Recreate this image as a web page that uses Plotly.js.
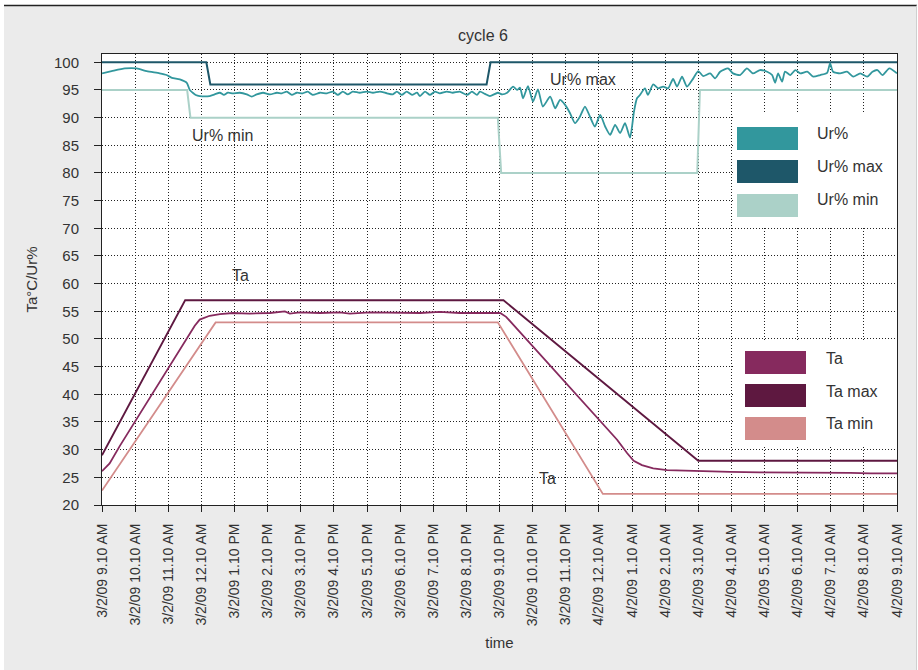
<!DOCTYPE html>
<html><head><meta charset="utf-8">
<script src="https://cdn.plot.ly/plotly-3.0.1.min.js"></script>
<style>html,body{margin:0;padding:0;background:#fff}#chart{width:918px;height:670px}</style>
</head><body><div id="chart"></div>
<script>
// ---- tick positions (hours since 3/2/09 9.10 AM) and labels ----
const tickHours = [0,1,2,3,4,5,6,7,8,9,10,11,12,13,14,15,16,17,18,19,20,21,22,23,24];
const tickLabels = [
  "3/2/09 9.10 AM","3/2/09 10.10 AM","3/2/09 11.10 AM","3/2/09 12.10 AM",
  "3/2/09 1.10 PM","3/2/09 2.10 PM","3/2/09 3.10 PM","3/2/09 4.10 PM",
  "3/2/09 5.10 PM","3/2/09 6.10 PM","3/2/09 7.10 PM","3/2/09 8.10 PM",
  "3/2/09 9.10 PM","3/2/09 10.10 PM","3/2/09 11.10 PM","4/2/09 12.10 AM",
  "4/2/09 1.10 AM","4/2/09 2.10 AM","4/2/09 3.10 AM","4/2/09 4.10 AM",
  "4/2/09 5.10 AM","4/2/09 6.10 AM","4/2/09 7.10 AM","4/2/09 8.10 AM",
  "4/2/09 9.10 AM"];

// ---- Ur% (measured humidity) ----
const urTime = [0,0.29,0.69,1.05,1.35,1.74,1.95,2.11,2.35,2.56,2.65,2.74,2.83,2.95,3.25,3.40,3.56,3.68,3.80,3.95,
  4.16,4.37,4.52,4.67,4.86,5.07,5.28,5.43,5.58,5.73,5.88,6.06,6.21,6.36,6.58,6.79,6.97,7.12,7.27,7.42,
  7.57,7.78,7.99,8.18,8.39,8.60,8.78,8.90,9.05,9.20,9.36,9.51,9.60,9.75,9.90,10.05,10.20,10.41,10.59,10.80,
  11.02,11.17,11.32,11.41,11.56,11.71,11.95,12.08,12.23,12.41,12.53,12.62,12.71,12.86,13.01,13.16,13.31,13.53,13.68,13.83,
  13.98,14.13,14.28,14.43,14.58,14.73,14.88,15.04,15.19,15.34,15.49,15.64,15.79,15.94,16.06,16.15,16.24,16.39,16.48,16.64,
  16.79,16.94,17.09,17.24,17.36,17.51,17.66,17.85,18.00,18.15,18.36,18.51,18.66,18.90,19.05,19.26,19.47,19.65,19.86,20.08,
  20.23,20.32,20.41,20.53,20.62,20.78,20.93,21.08,21.29,21.47,21.68,21.89,21.98,22.07,22.28,22.49,22.68,22.89,23.10,23.26,
  23.41,23.56,23.77,24.00];
const urValues = [98.0,98.4,98.9,98.9,98.4,98.0,97.7,97.2,96.9,96.3,95.0,94.5,94.1,93.9,93.9,94.2,94.5,94.1,94.5,94.4,
  94.5,94.2,93.8,94.2,94.5,94.2,94.5,94.4,94.7,94.1,94.5,94.4,94.7,94.1,94.5,94.4,94.7,94.1,94.7,94.2,
  94.7,94.5,94.7,94.5,94.7,94.4,94.2,94.7,94.1,94.7,94.1,94.5,93.9,94.7,94.1,94.7,94.4,94.7,94.5,94.7,
  94.1,94.7,94.1,94.7,94.3,93.9,94.5,94.2,94.5,95.6,95.0,95.4,93.5,95.7,92.9,95.1,92.0,93.8,91.7,93.2,
  92.3,90.8,89.0,90.2,92.0,90.2,88.4,90.5,88.4,86.9,88.7,87.2,89.0,86.4,91.1,93.5,94.1,95.3,94.1,96.0,
  95.3,95.6,95.3,97.0,95.6,97.4,95.6,97.1,98.4,97.5,98.0,97.1,98.3,98.9,98.0,97.7,98.9,98.0,98.6,98.3,
  97.7,96.3,98.0,96.5,98.3,97.7,98.6,98.0,98.3,97.4,97.7,98.1,99.8,98.3,98.0,98.3,97.4,98.0,97.4,98.3,
  98.6,97.7,98.9,98.0];

// ---- Ur% max / Ur% min (set limits) ----
const urMaxTime = [0,3.15,3.27,11.61,11.73,24];
const urMaxValues = [100,100,96,96,100,100];
const urMinTime = [0,2.57,2.67,11.95,12.05,17.97,18.05,24];
const urMinValues = [95,95,90,90,80,80,95,95];

// ---- Ta (measured temperature) ----
const taTime = [0,0.23,0.53,1.44,2.20,2.59,2.80,2.95,3.25,3.56,3.95,4.46,5.07,5.52,5.67,5.97,6.58,7.18,7.48,8.09,
  8.99,9.60,10.20,10.80,11.41,12.02,12.20,12.92,13.89,14.98,15.55,15.85,16.05,16.30,16.64,17.06,18.00,18.96,19.86,20.78,21.68,
  22.59,23.19,24.00];
const taValues = [26.1,27.5,30.6,39.4,46.8,50.6,52.4,53.5,54.2,54.5,54.7,54.6,54.7,55.0,54.6,54.8,54.7,54.8,54.6,54.8,
  54.8,54.7,54.9,54.7,54.7,54.7,54.0,49.2,42.8,35.6,31.8,29.4,28.0,27.2,26.6,26.3,26.1,26.0,25.9,25.9,25.8,
  25.8,25.7,25.7];

// ---- Ta max / Ta min (set limits) ----
const taMaxTime = [0,2.51,12.12,18.0,24];
const taMaxValues = [29,57,57,28,28];
const taMinTime = [0,3.43,11.95,15.12,24];
const taMinValues = [22.6,53,53,22,22];

// ---- colours ----
const cUr = '#32979d', cUrMax = '#1e5769', cUrMin = '#abd1c8';
const cTa = '#862a5e', cTaMax = '#5e1840', cTaMin = '#d38c8b';

const FONT = 'Liberation Sans, Arial, sans-serif';
const TXT = '#333333';

const traces = [
  {x: urMinTime, y: urMinValues, name: 'Ur% min', mode: 'lines', line: {color: cUrMin, width: 2}},
  {x: urMaxTime, y: urMaxValues, name: 'Ur% max', mode: 'lines', line: {color: cUrMax, width: 2}},
  {x: urTime, y: urValues, name: 'Ur%', mode: 'lines', line: {color: cUr, width: 1.8, shape: 'spline', smoothing: 0.6}},
  {x: taMinTime, y: taMinValues, name: 'Ta min', mode: 'lines', line: {color: cTaMin, width: 1.8}},
  {x: taMaxTime, y: taMaxValues, name: 'Ta max', mode: 'lines', line: {color: cTaMax, width: 1.8}},
  {x: taTime, y: taValues, name: 'Ta', mode: 'lines', line: {color: cTa, width: 1.8}}
];

// ---- layout geometry helpers (pixel -> paper) ----
const FW = 918, FH = 670, ML = 102, MR = 21, MT = 54, MB = 165;
const PW = FW - ML - MR, PH = FH - MT - MB;
const px = v => (v - ML) / PW;
const py = v => (FH - MB - v) / PH;

const shapes = [];
const annotations = [];
// page decoration: white margins and dark top rule
shapes.push({type:'rect', xref:'paper', yref:'paper', x0:px(0), x1:px(918), y0:py(5), y1:py(0), fillcolor:'#ffffff', line:{width:0}, layer:'above'});
shapes.push({type:'rect', xref:'paper', yref:'paper', x0:px(0), x1:px(4), y0:py(670), y1:py(0), fillcolor:'#ffffff', line:{width:0}, layer:'above'});
shapes.push({type:'rect', xref:'paper', yref:'paper', x0:px(916.5), x1:px(918), y0:py(670), y1:py(0), fillcolor:'#ffffff', line:{width:0}, layer:'above'});
shapes.push({type:'line', xref:'paper', yref:'paper', x0:px(4), x1:px(917), y0:py(5.5), y1:py(5.5), line:{color:'#222', width:1.5}, layer:'above'});
shapes.push({type:'line', xref:'paper', yref:'paper', x0:px(916.5), x1:px(916.5), y0:py(670), y1:py(5.5), line:{color:'#cfcfcf', width:1}, layer:'above'});

// legend boxes
function legendBox(top, bottom, items, rectX0, rectX1, textX) {
  shapes.push({type:'rect', xref:'paper', yref:'paper', x0:px(733.5), x1:px(896), y0:py(bottom), y1:py(top), fillcolor:'#ffffff', line:{width:0}, layer:'above'});
  items.forEach(it => {
    shapes.push({type:'rect', xref:'paper', yref:'paper', x0:px(rectX0), x1:px(rectX1), y0:py(it.y1), y1:py(it.y0), fillcolor:it.color, line:{width:0}, layer:'above'});
    annotations.push({xref:'paper', yref:'paper', x:px(textX), y:py(it.ty), text:it.label, showarrow:false, xanchor:'left', yanchor:'middle', font:{family:FONT, size:16, color:TXT}});
  });
}
legendBox(112, 227, [
  {label:'Ur%', color:cUr, y0:127, y1:150, ty:133},
  {label:'Ur% max', color:cUrMax, y0:160, y1:183, ty:166},
  {label:'Ur% min', color:cUrMin, y0:194, y1:217, ty:199}
], 737, 798, 815);
legendBox(341, 447, [
  {label:'Ta', color:cTa, y0:351, y1:374, ty:358},
  {label:'Ta max', color:cTaMax, y0:384, y1:407, ty:391},
  {label:'Ta min', color:cTaMin, y0:417, y1:440, ty:423}
], 745, 806, 824);

// in-plot labels
[
  {t:'Ur% max', x:583, y:80},
  {t:'Ur% min', x:222, y:136},
  {t:'Ta', x:240, y:275},
  {t:'Ta', x:547, y:478}
].forEach(a => annotations.push({xref:'paper', yref:'paper', x:px(a.x), y:py(a.y), text:a.t, showarrow:false, xanchor:'center', yanchor:'middle', font:{family:FONT, size:16, color:TXT}}));

const layout = {
  width: FW, height: FH,
  margin: {l: ML, r: MR, t: MT, b: MB, pad: 0},
  paper_bgcolor: '#ebebeb',
  plot_bgcolor: '#ffffff',
  showlegend: false,
  hovermode: false,
  font: {family: FONT, color: TXT},
  title: {text: 'cycle 6', x: 483/918, xanchor: 'center', y: 1 - 35/670, yanchor: 'middle', font: {family: FONT, size: 16, color: TXT}},
  xaxis: {
    range: [0, 24], tickmode: 'array', tickvals: tickHours, ticktext: tickLabels, tickangle: -90,
    ticks: 'outside', ticklen: 6, tickcolor: '#222', tickwidth: 1, ticklabelstandoff: 6,
    showgrid: true, gridcolor: '#222', griddash: '1px,2px', gridwidth: 1,
    showline: true, linecolor: '#222', linewidth: 1, mirror: true, zeroline: false,
    tickfont: {family: FONT, size: 14, color: TXT},
    title: {text: 'time', font: {family: FONT, size: 15, color: TXT}, standoff: 12},
    automargin: false
  },
  yaxis: {
    range: [20, 101.5], tick0: 20, dtick: 5,
    ticks: 'outside', ticklen: 7, tickcolor: '#222', tickwidth: 1, ticklabelstandoff: 12,
    showgrid: true, gridcolor: '#222', griddash: '1px,2px', gridwidth: 1,
    showline: true, linecolor: '#222', linewidth: 1, mirror: true, zeroline: false,
    tickfont: {family: FONT, size: 15, color: TXT},
    title: {text: 'Ta°C/Ur%', font: {family: FONT, size: 15, color: TXT}, standoff: 12},
    automargin: false
  },
  shapes: shapes,
  annotations: annotations
};

Plotly.newPlot('chart', traces, layout, {staticPlot: true, displayModeBar: false});
</script>
</body></html>
